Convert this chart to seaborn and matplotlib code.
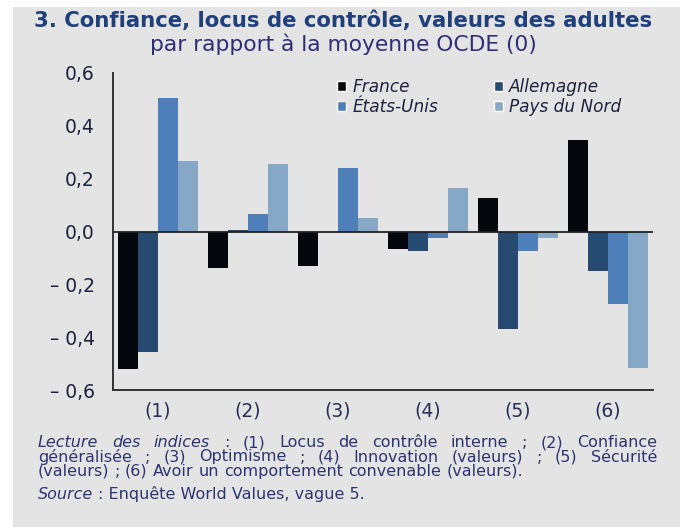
import pandas as pd
import seaborn as sns
import matplotlib.pyplot as plt
from matplotlib.patches import Patch, Rectangle

# data
indices = ['(1)', '(2)', '(3)', '(4)', '(5)', '(6)']
countries = ['France', 'Allemagne', 'États-Unis', 'Pays du Nord']
france = [-0.52, -0.14, -0.13, -0.065, 0.125, 0.345]
allemagne = [-0.455, 0.005, 0.0, -0.075, -0.37, -0.15]
etats_unis = [0.505, 0.065, 0.24, -0.025, -0.075, -0.275]
pays_nord = [0.265, 0.255, 0.05, 0.165, -0.025, -0.515]
colors = ['#05070c', '#264a70', '#4f7fb9', '#87a7c6']
y_ticks = [0.6, 0.4, 0.2, 0.0, -0.2, -0.4, -0.6]
y_labels = ['0,6', '0,4', '0,2', '0,0', '– 0,2', '– 0,4', '– 0,6']

df = pd.DataFrame({'indice': indices * 4,
                   'pays': [c for c in countries for _ in indices],
                   'valeur': france + allemagne + etats_unis + pays_nord})

sns.set_style('white')
plt.rcParams['font.family'] = ['DejaVu Sans']

W, H = 686, 527
fig = plt.figure(figsize=(W / 100, H / 100), dpi=100)
fig.patch.set_facecolor('white')
bg = '#e4e4e4'
txt = '#2c3574'
fig.patches.append(Rectangle((13 / W, 0), 667 / W, 1 - 7 / H, transform=fig.transFigure,
                             facecolor=bg, edgecolor='none', zorder=-10))

ax = fig.add_axes([113 / W, 1 - 390 / H, 540 / W, 317 / H])
ax.set_facecolor(bg)
sns.barplot(data=df, x='indice', y='valeur', hue='pays', hue_order=countries,
            palette=colors, width=0.89, saturation=1, linewidth=0, legend=False, ax=ax)

ax.set_ylim(-0.6, 0.6)
ax.set_xlim(-0.5, 5.5)
ax.axhline(0, color='#222222', lw=1.3, zorder=5)
for s in ['top', 'right']:
    ax.spines[s].set_visible(False)
for s in ['left', 'bottom']:
    ax.spines[s].set_color('#333333')
    ax.spines[s].set_linewidth(1.4)
ax.set_yticks(y_ticks)
ax.set_yticklabels(y_labels)
ax.tick_params(axis='y', direction='out', length=6, width=1.2, color='#333333',
               labelsize=13.5, labelcolor='#1c2140', pad=7)
ax.tick_params(axis='x', length=0, labelsize=13.5, labelcolor='#263058', pad=8)
ax.set_xlabel('')
ax.set_ylabel('')

handles = [Patch(facecolor=colors[i], label=countries[i]) for i in [0, 2, 1, 3]]
ax.legend(handles=handles, ncol=2, loc='upper left', bbox_to_anchor=(0.415, 0.985),
          frameon=False, borderpad=0, borderaxespad=0,
          handlelength=0.55, handleheight=0.55, handletextpad=0.35,
          columnspacing=3.3, labelspacing=0.15,
          prop={'style': 'italic', 'size': 12.2}, labelcolor='#1e2240')

fig.text(0.5, 1 - 21 / H, '3. Confiance, locus de contrôle, valeurs des adultes',
         ha='center', va='center', fontsize=15.3, fontweight='bold', color='#20407c')
fig.text(0.5, 1 - 44 / H, 'par rapport à la moyenne OCDE (0)',
         ha='center', va='center', fontsize=15.7, color='#2c2f78')

# footnote, justified by hand
renderer = fig.canvas.get_renderer()
fs = 11.5


def text_width(s, style='normal'):
    t = fig.text(0, 0, s, fontsize=fs, style=style)
    w = t.get_window_extent(renderer).width
    t.remove()
    return w


space = text_width('a a') - text_width('aa')
lines = [
    (['Lecture', 'des', 'indices'], ':', '(1) Locus de contrôle interne ; (2) Confiance', True),
    ([], '', 'généralisée ; (3) Optimisme ; (4) Innovation (valeurs) ; (5) Sécurité', True),
    ([], '', '(valeurs) ; (6) Avoir un comportement convenable (valeurs).', False),
]
x0, x1 = 38, 657
y0 = 441
for k, (ital, sep, rest, justify) in enumerate(lines):
    words = [(w, 'italic') for w in ital]
    if sep:
        words.append((sep, 'normal'))
    words += [(w, 'normal') for w in rest.split()]
    items = []
    for w, st in words:
        t = fig.text(0, 0, w, fontsize=fs, style=st, color=txt, va='center_baseline')
        items.append(t)
    widths = [t.get_window_extent(renderer).width for t in items]
    if justify:
        gap = max((x1 - x0 - sum(widths)) / (len(items) - 1), space)
    else:
        gap = space
    xp = x0
    y = y0 + k * 14.5
    for t, wd in zip(items, widths):
        t.set_position((xp / W, 1 - y / H))
        xp += wd + gap

sw = text_width('Source', 'italic')
fig.text(38 / W, 1 - 493 / H, 'Source', fontsize=fs, style='italic', color=txt,
         va='center_baseline')
fig.text((38 + sw + space) / W, 1 - 493 / H, ': Enquête World Values, vague 5.',
         fontsize=fs, color=txt, va='center_baseline')

fig.savefig('out.png', dpi=100)
